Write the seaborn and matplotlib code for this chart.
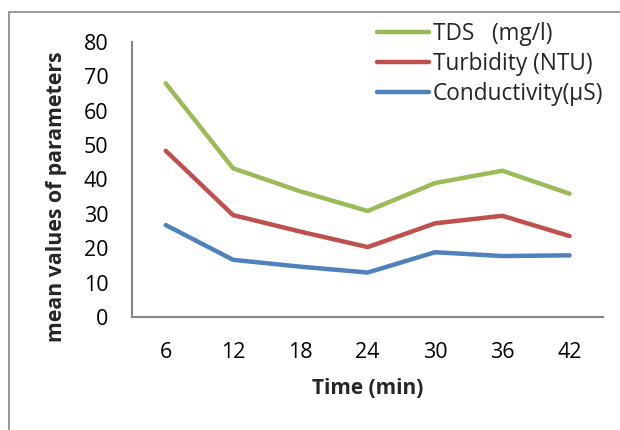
import pandas as pd
import matplotlib.pyplot as plt
import seaborn as sns
from matplotlib.patches import Rectangle

# values
time_min = ["6", "12", "18", "24", "30", "36", "42"]
tds = [67.9, 43.2, 36.5, 30.8, 38.9, 42.5, 35.8]
turbidity = [48.3, 29.6, 24.8, 20.3, 27.2, 29.4, 23.5]
conductivity = [26.7, 16.6, 14.6, 12.9, 18.8, 17.7, 17.9]

series_names = ["TDS   (mg/l)", "Turbidity (NTU)", "Conductivity(\u00b5S)"]
colors = ["#9BBB59", "#C0504D", "#4F81BD"]

df = pd.DataFrame({
    "time": time_min * 3,
    "value": tds + turbidity + conductivity,
    "param": [series_names[0]] * 7 + [series_names[1]] * 7 + [series_names[2]] * 7,
})

sns.set_style("white")
plt.rcParams['font.family'] = ['Open Sans', 'DejaVu Sans']

fig = plt.figure(figsize=(6.2, 4.3), dpi=100)
ax = fig.add_axes([0.213, 0.263, 0.760, 0.640])

sns.lineplot(data=df, x="time", y="value", hue="param", palette=colors,
             linewidth=3.2, ax=ax, sort=False, legend=False)

ax.set_xlim(-0.5, 6.5)
ax.set_ylim(0, 80)
ax.set_yticks(range(0, 81, 10))
ax.tick_params(axis="both", length=0, labelsize=15.5, colors="black")
ax.tick_params(axis="x", pad=18)
ax.tick_params(axis="y", pad=17)

for s in ["top", "right"]:
    ax.spines[s].set_visible(False)
for s in ["left", "bottom"]:
    ax.spines[s].set_color("#868686")
    ax.spines[s].set_linewidth(1.5)

ax.set_xlabel("Time (min)", fontsize=15, fontweight="bold")
ax.set_ylabel("mean values of parameters", fontsize=15.3, fontweight="bold")
ax.xaxis.set_label_coords(0.499, -0.222)
ax.yaxis.set_label_coords(-0.138, 0.438)

# legend built from the same palette
handles = [plt.Line2D([0], [0], color=c, lw=3.2, solid_capstyle="round") for c in colors]
fig.legend(handles, series_names, loc="upper left", bbox_to_anchor=(0.594, 0.970),
           frameon=False, fontsize=16.3, handlelength=2.3, handletextpad=0.15,
           labelspacing=0.27, borderaxespad=0)

# outer chart border
fig.add_artist(Rectangle((9 / 620, -0.1), 1.0, 1 - 12 / 430 + 0.1,
                         transform=fig.transFigure, fill=False,
                         edgecolor="#868686", lw=1.2, zorder=0))

fig.savefig("out.png", dpi=100)
